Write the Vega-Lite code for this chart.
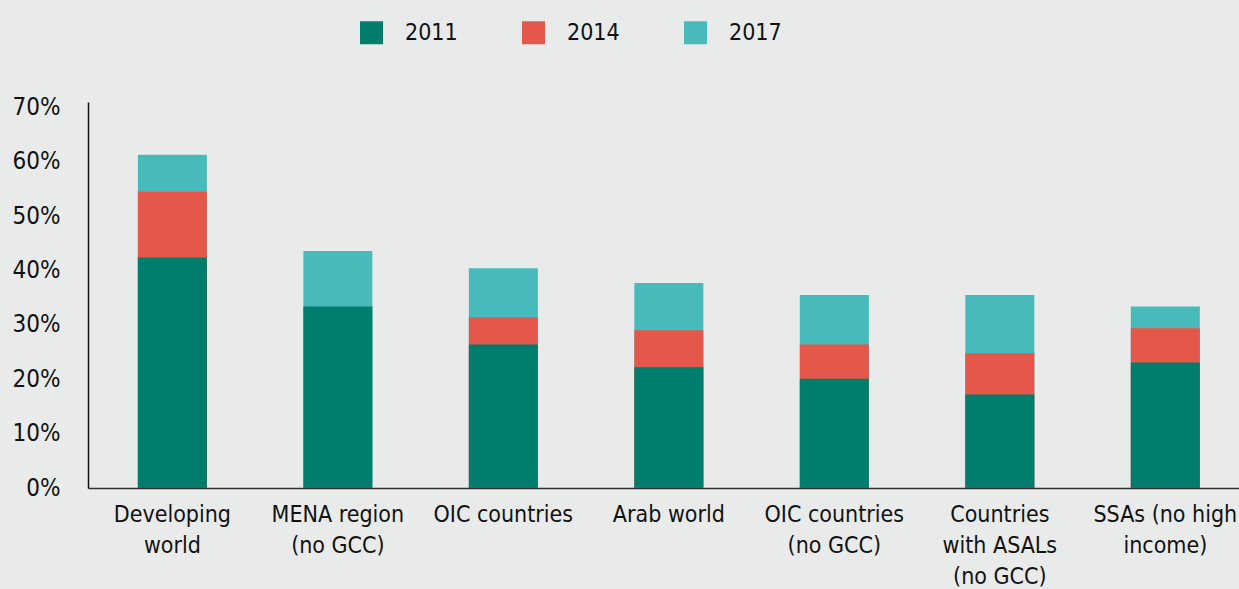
{
  "$schema": "https://vega.github.io/schema/vega-lite/v6.json",
  "autosize": {"type": "none"},
  "padding": {"left": 88, "top": 102, "right": 0, "bottom": 101},
  "width": 1151,
  "height": 386,
  "background": "#e9ebea",
  "config": {
    "view": {"stroke": null},
    "font": "DejaVu Sans Condensed, Roboto, sans-serif"
  },
  "data": {
    "values": [
      {"region": "Developing world", "year": "2017", "value": 61.3},
      {"region": "MENA region (no GCC)", "year": "2017", "value": 43.6},
      {"region": "OIC countries", "year": "2017", "value": 40.4},
      {"region": "Arab world", "year": "2017", "value": 37.7},
      {"region": "OIC countries (no GCC)", "year": "2017", "value": 35.5},
      {"region": "Countries with ASALs (no GCC)", "year": "2017", "value": 35.5},
      {"region": "SSAs (no high income)", "year": "2017", "value": 33.4},
      {"region": "Developing world", "year": "2014", "value": 54.5},
      {"region": "OIC countries", "year": "2014", "value": 31.4},
      {"region": "Arab world", "year": "2014", "value": 29.0},
      {"region": "OIC countries (no GCC)", "year": "2014", "value": 26.4},
      {"region": "Countries with ASALs (no GCC)", "year": "2014", "value": 24.8},
      {"region": "SSAs (no high income)", "year": "2014", "value": 29.4},
      {"region": "Developing world", "year": "2011", "value": 42.4},
      {"region": "MENA region (no GCC)", "year": "2011", "value": 33.4},
      {"region": "OIC countries", "year": "2011", "value": 26.4},
      {"region": "Arab world", "year": "2011", "value": 22.2},
      {"region": "OIC countries (no GCC)", "year": "2011", "value": 20.1},
      {"region": "Countries with ASALs (no GCC)", "year": "2011", "value": 17.2},
      {"region": "SSAs (no high income)", "year": "2011", "value": 23.1}
    ]
  },
  "mark": {"type": "bar"},
  "encoding": {
    "x": {
      "field": "region",
      "type": "nominal",
      "sort": null,
      "scale": {"paddingInner": 0.583, "paddingOuter": 0.269, "align": 0.56},
      "axis": {
        "title": null,
        "labelAngle": 0,
        "ticks": false,
        "domainColor": "#333333",
        "domainWidth": 1.5,
        "labelFontSize": 23,
        "labelColor": "#111111",
        "labelPadding": 15,
        "labelLineHeight": 31,
        "labelBaseline": "top",
        "labelLimit": 300,
        "labelExpr": "datum.value == 'Developing world' ? ['Developing', 'world'] : datum.value == 'MENA region (no GCC)' ? ['MENA region', '(no GCC)'] : datum.value == 'OIC countries (no GCC)' ? ['OIC countries', '(no GCC)'] : datum.value == 'Countries with ASALs (no GCC)' ? ['Countries', 'with ASALs', '(no GCC)'] : datum.value == 'SSAs (no high income)' ? ['SSAs (no high', 'income)'] : datum.value"
      }
    },
    "y": {
      "field": "value",
      "type": "quantitative",
      "stack": null,
      "scale": {"domain": [0, 71], "nice": false},
      "axis": {
        "title": null,
        "values": [0, 10, 20, 30, 40, 50, 60, 70],
        "labelExpr": "datum.value + '%'",
        "grid": false,
        "ticks": false,
        "domainColor": "#111111",
        "domainWidth": 1.5,
        "labelFontSize": 24,
        "labelColor": "#111111",
        "labelPadding": 28
      }
    },
    "color": {
      "field": "year",
      "type": "nominal",
      "scale": {"domain": ["2011", "2014", "2017"], "range": ["#007d6d", "#e5574a", "#47bbbb"]},
      "legend": {
        "title": null,
        "orient": "none",
        "legendX": 272,
        "legendY": -81,
        "direction": "horizontal",
        "columns": 3,
        "symbolType": "square",
        "symbolSize": 529,
        "symbolStrokeWidth": 0,
        "labelFontSize": 23,
        "labelColor": "#111111",
        "labelOffset": 22,
        "columnPadding": 64
      }
    }
  }
}
